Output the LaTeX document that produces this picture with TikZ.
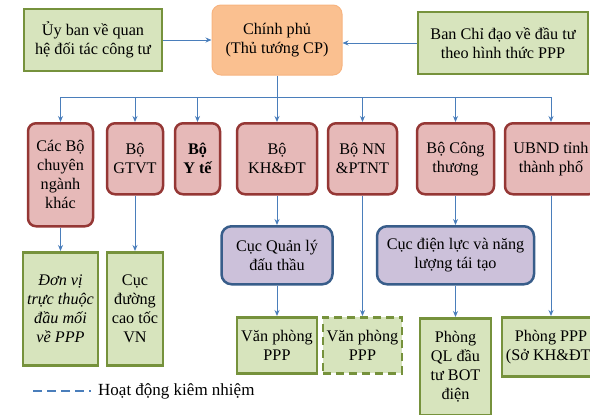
\documentclass[tikz,border=0pt]{standalone}
\usepackage{fontspec}
\setmainfont{Liberation Serif}
\usepackage{tikz}
\usetikzlibrary{arrows.meta, positioning}
\definecolor{myblue}{RGB}{74,126,187}
\definecolor{mygreen}{RGB}{118,146,60}
\definecolor{hdrgreen}{RGB}{215,228,189}
\definecolor{myorange}{RGB}{247,180,128}
\definecolor{hdrorange}{RGB}{250,192,144}
\definecolor{myred}{RGB}{149,55,53}
\definecolor{hdrred}{RGB}{230,185,184}
\definecolor{mynavy}{RGB}{56,93,138}
\definecolor{hdrpurple}{RGB}{204,193,218}
\tikzset{
  box/.style={rectangle, align=center, inner sep=1pt,
    font=\rmfamily\fontsize{16.2}{19}\selectfont, line width=2.5pt},
  greenblock/.style={box, draw=mygreen, fill=hdrgreen},
  dashblock/.style={box, draw=mygreen, fill=hdrgreen, dash pattern=on 8pt off 5pt},
  orangeblock/.style={box, draw=myorange, fill=hdrorange, rounded corners=9pt, line width=1pt},
  redblock/.style={box, draw=myred, fill=hdrred, rounded corners=8pt},
  purpblock/.style={box, draw=mynavy, fill=hdrpurple, rounded corners=10pt},
  arrow/.style={-{Stealth[length=6pt,width=5pt]}, line width=1pt, color=myblue},
  line/.style={line width=1pt, color=myblue}
}

\begin{document}
\begin{tikzpicture}[x=1pt, y=-1pt]
  \useasboundingbox (0,0) rectangle (590,415);
  \node[greenblock, minimum width=138pt, minimum height=62pt] (uyban) at (93,40) {Ủy ban về quan\\hệ đối tác công tư};
  \node[orangeblock, minimum width=130pt, minimum height=70pt] (cp) at (277,40) {Chính phủ\\(Thủ tướng CP)};
  \node[greenblock, minimum width=170pt, minimum height=62pt] (ban) at (503,43) {Ban Chỉ đạo về đầu tư\\theo hình thức PPP};

  \node[redblock, anchor=north, minimum width=65pt, minimum height=103pt] (cacbo) at (60.5,122) {Các Bộ\\chuyên\\ngành\\khác};
  \node[redblock, anchor=north, minimum width=56pt, minimum height=71pt] (gtvt) at (135,122) {Bộ\\GTVT};
  \node[redblock, anchor=north, minimum width=45pt, minimum height=71pt, font=\rmfamily\fontsize{16.2}{19}\selectfont\bfseries] (yte) at (197.5,122) {Bộ\\Y tế};
  \node[redblock, anchor=north, minimum width=80pt, minimum height=71pt] (khdt) at (277,122) {Bộ\\KH\&ĐT};
  \node[redblock, anchor=north, minimum width=69pt, minimum height=71pt] (nn) at (362.5,122) {Bộ NN\\\&PTNT};
  \node[redblock, anchor=north, minimum width=77pt, minimum height=71pt] (ct) at (455.5,122) {Bộ Công\\thương};
  \node[redblock, anchor=north, minimum width=92pt, minimum height=71pt] (ubnd) at (551,122) {UBND tỉnh\\thành phố};

  \node[purpblock, anchor=north, minimum width=111pt, minimum height=58pt] (cucql) at (277,225) {Cục Quản lý\\đấu thầu};
  \node[purpblock, anchor=north, minimum width=157pt, minimum height=58pt] (cucdl) at (455.5,225) {Cục điện lực và năng\\lượng tái tạo};

  \node[greenblock, anchor=north, minimum width=75pt, minimum height=113pt, font=\rmfamily\fontsize{16.2}{19}\selectfont\itshape] (donvi) at (60.5,251) {Đơn vị\\trực thuộc\\đầu mối\\về PPP};
  \node[greenblock, anchor=north, minimum width=56pt, minimum height=113pt] (cucdg) at (135,251) {Cục\\đường\\cao tốc\\VN};
  \node[greenblock, anchor=north, minimum width=80pt, minimum height=56pt] (vp) at (277,316) {Văn phòng\\PPP};
  \node[dashblock, anchor=north, minimum width=79pt, minimum height=56pt] (vpnn) at (362.5,316) {Văn phòng\\PPP};
  \node[greenblock, anchor=north, minimum width=71pt, minimum height=97pt] (bot) at (455.5,317) {Phòng\\QL đầu\\tư BOT\\điện};
  \node[greenblock, anchor=north, minimum width=98pt, minimum height=59pt] (sokh) at (551,316) {Phòng PPP\\(Sở KH\&ĐT)};

  \draw[arrow] (uyban.east) -- (uyban.east -| cp.west);
  \draw[arrow] (ban.west) -- (ban.west -| cp.east);
  \coordinate (bus) at (277,97);
  \draw[line] (cp.south) -- (bus);
  \draw[line] (bus -| cacbo.north) -- (bus -| ubnd.north);
  \foreach \n in {cacbo, gtvt, yte, khdt, nn, ct, ubnd}
    \draw[arrow] (bus -| \n.north) -- (\n.north);

  \draw[arrow] (cacbo) -- (donvi);
  \draw[arrow] (gtvt) -- (cucdg);
  \draw[arrow] (khdt) -- (cucql);
  \draw[arrow] (cucql) -- (vp);
  \draw[arrow] (nn) -- (vpnn);
  \draw[arrow] (ct) -- (cucdl);
  \draw[arrow] (cucdl) -- (bot);
  \draw[arrow] (ubnd) -- (sokh);

  \coordinate (leg) at (33,391);
  \draw[color=myblue, line width=2.5pt, dash pattern=on 9pt off 5pt] (leg) -- ++(58,0) coordinate (legend);
  \node[anchor=west, inner sep=0pt, font=\rmfamily\fontsize{17}{19}\selectfont] (legtext) at ([xshift=7pt]legend) {Hoạt động kiêm nhiệm};
\end{tikzpicture}
\end{document}
